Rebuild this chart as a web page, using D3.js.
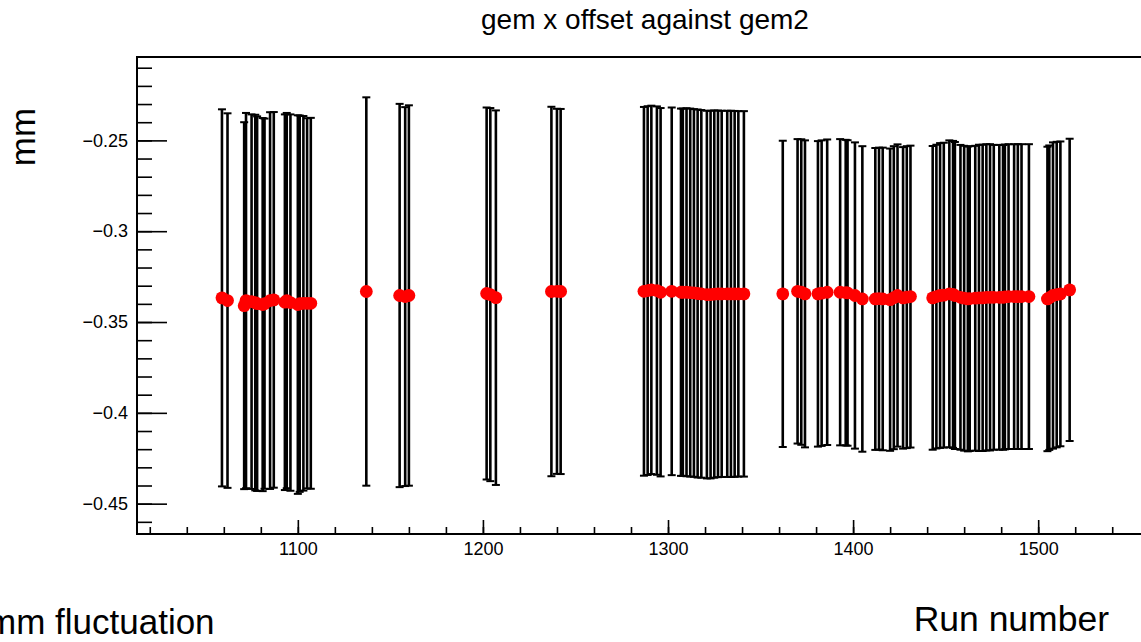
<!DOCTYPE html>
<html>
<head>
<meta charset="utf-8">
<script src="https://cdn.jsdelivr.net/npm/d3@7"></script>
<style>
  html, body { margin: 0; padding: 0; background: #fff; overflow: hidden; }
  svg { display: block; font-family: "Liberation Sans", Arial, Helvetica, sans-serif; }
</style>
</head>
<body>
<svg id="chart" width="1141" height="642"></svg>
<script>
// Run numbers
const runs = [
  1059, 1062,
  1071, 1072, 1075, 1077, 1078, 1081, 1082, 1085, 1087, 1093, 1094, 1096, 1100, 1101, 1103, 1105, 1107,
  1137,
  1155, 1158, 1160,
  1202, 1204, 1207,
  1237, 1240, 1242,
  1287, 1289, 1291, 1294, 1296, 1302, 1307, 1308, 1310, 1312, 1314, 1316, 1318, 1321, 1323, 1325, 1327, 1329, 1332, 1334, 1336, 1338, 1341,
  1362, 1370, 1372, 1374, 1381, 1383, 1386, 1393, 1396, 1397, 1401, 1405, 1412, 1414, 1416, 1420, 1422, 1424, 1427, 1429, 1431,
  1443, 1445, 1447, 1449, 1452, 1454, 1455, 1458, 1460, 1462, 1463, 1466, 1468, 1470, 1472, 1474, 1476, 1479, 1481, 1482, 1484, 1487, 1489, 1491, 1495,
  1505, 1506, 1508, 1510, 1512, 1517
];

// gem x offset (mm)
const offsets = [
  -0.3367, -0.3382,
  -0.3410, -0.3382, -0.3388, -0.3393, -0.3399, -0.3404, -0.3399, -0.3382, -0.3378, -0.3391, -0.3382, -0.3393, -0.3404, -0.3399, -0.3397, -0.3397, -0.3397,
  -0.3332,
  -0.3354, -0.3360, -0.3354,
  -0.3343, -0.3349, -0.3366,
  -0.3332, -0.3331, -0.3332,
  -0.3331, -0.3327, -0.3323, -0.3327, -0.3336, -0.3331, -0.3336, -0.3336, -0.3336, -0.3338, -0.3340, -0.3343, -0.3345, -0.3349, -0.3349, -0.3346, -0.3345, -0.3345, -0.3345, -0.3345, -0.3345, -0.3345, -0.3345,
  -0.3345, -0.3331, -0.3335, -0.3345, -0.3345, -0.3341, -0.3336, -0.3336, -0.3338, -0.3340, -0.3354, -0.3373, -0.3373, -0.3371, -0.3373, -0.3377, -0.3366, -0.3354, -0.3367, -0.3363, -0.3360,
  -0.3367, -0.3360, -0.3354, -0.3352, -0.3345, -0.3348, -0.3354, -0.3364, -0.3369, -0.3373, -0.3371, -0.3369, -0.3367, -0.3367, -0.3364, -0.3364, -0.3364, -0.3364, -0.3364, -0.3362, -0.3360, -0.3360, -0.3360, -0.3360, -0.3360,
  -0.3373, -0.3366, -0.3354, -0.3349, -0.3345, -0.3323
];

// fluctuation (mm), drawn as symmetric error bars
const errors = [
  0.1038, 0.1031,
  0.1010, 0.1033, 0.1031, 0.1034, 0.1031, 0.1027, 0.1019, 0.1037, 0.1034, 0.1034, 0.1033, 0.1036, 0.1042, 0.1036, 0.1031, 0.1019, 0.1021,
  0.1069,
  0.1055, 0.1043, 0.1047,
  0.1024, 0.1027, 0.1031,
  0.1017, 0.1005, 0.1005,
  0.1015, 0.1015, 0.1014, 0.1014, 0.1014, 0.1012, 0.1011, 0.1011, 0.1013, 0.1013, 0.1012, 0.1013, 0.1012, 0.1012, 0.1012, 0.1011, 0.1009, 0.1008, 0.1008, 0.1008, 0.1007, 0.1006, 0.1006,
  0.0843, 0.0838, 0.0841, 0.0845, 0.0841, 0.0841, 0.0841, 0.0843, 0.0841, 0.0841, 0.0843, 0.0841, 0.0831, 0.0831, 0.0833, 0.0832, 0.0834, 0.0832, 0.0830, 0.0831, 0.0831,
  0.0836, 0.0836, 0.0839, 0.0839, 0.0845, 0.0845, 0.0845, 0.0839, 0.0839, 0.0839, 0.0839, 0.0839, 0.0843, 0.0843, 0.0843, 0.0843, 0.0839, 0.0839, 0.0839, 0.0839, 0.0839, 0.0839, 0.0839, 0.0839, 0.0839,
  0.0838, 0.0838, 0.0843, 0.0841, 0.0839, 0.0832
];

// Axis ticks
const xMajorTicks = [1100, 1200, 1300, 1400, 1500];
const xMinorTicks = d3.range(1020, 1580, 20);
const yMajorTicks = [-0.45, -0.4, -0.35, -0.3, -0.25];
const yMinorTicks = d3.range(-46, -20, 1).map(v => v / 100);

const titleText = "gem x offset against gem2";
const xTitle = "Run number";
const yTitle = "mm";
const noteText = "mm fluctuation";

const svg = d3.select("#chart");
const frame = { left: 137, top: 57, bottom: 534, right: 1177 };

const x = d3.scaleLinear().domain([1013.1, 1575]).range([frame.left, frame.right]);
const y = d3.scaleLinear().domain([-0.4667, -0.2041]).range([frame.bottom, frame.top]);

const fmtY = v => (v < 0 ? "\u2212" : "") + String(+Math.abs(v).toFixed(2));

// minor ticks
svg.append("g")
  .attr("transform", `translate(0,${frame.bottom})`)
  .call(d3.axisBottom(x).tickValues(xMinorTicks).tickSize(-7).tickFormat(""))
  .call(g => g.select(".domain").remove())
  .call(g => g.selectAll("line").attr("stroke", "#000").attr("stroke-width", 1.6));

svg.append("g")
  .attr("transform", `translate(${frame.left},0)`)
  .call(d3.axisLeft(y).tickValues(yMinorTicks).tickSize(-15).tickFormat(""))
  .call(g => g.select(".domain").remove())
  .call(g => g.selectAll("line").attr("stroke", "#000").attr("stroke-width", 1.6));

// major ticks with labels
svg.append("g")
  .attr("transform", `translate(0,${frame.bottom})`)
  .call(d3.axisBottom(x).tickValues(xMajorTicks).tickSize(-14).tickPadding(8).tickFormat(d3.format("d")))
  .call(g => g.select(".domain").remove())
  .call(g => g.selectAll("line").attr("stroke", "#000").attr("stroke-width", 1.6))
  .call(g => g.selectAll("text").attr("fill", "#000").attr("font-size", 18)
    .attr("font-family", "Liberation Sans, Arial, sans-serif"));

svg.append("g")
  .attr("transform", `translate(${frame.left},0)`)
  .call(d3.axisLeft(y).tickValues(yMajorTicks).tickSize(-30).tickPadding(9).tickFormat(fmtY))
  .call(g => g.select(".domain").remove())
  .call(g => g.selectAll("line").attr("stroke", "#000").attr("stroke-width", 1.6))
  .call(g => g.selectAll("text").attr("fill", "#000").attr("font-size", 18)
    .attr("font-family", "Liberation Sans, Arial, sans-serif"));

// frame
svg.append("rect")
  .attr("x", frame.left).attr("y", frame.top)
  .attr("width", frame.right - frame.left).attr("height", frame.bottom - frame.top)
  .attr("fill", "none").attr("stroke", "#000").attr("stroke-width", 2);

// data points
const pts = runs.map((r, i) => ({ run: r, val: offsets[i], err: errors[i] }));

const bars = svg.append("g").attr("stroke", "#000").attr("stroke-width", 2.6);
pts.forEach(p => {
  const cx = x(p.run), y1 = y(p.val + p.err), y2 = y(p.val - p.err);
  bars.append("line").attr("x1", cx).attr("x2", cx).attr("y1", y1).attr("y2", y2);
  bars.append("line").attr("x1", cx - 4).attr("x2", cx + 4).attr("y1", y1).attr("y2", y1).attr("stroke-width", 2);
  bars.append("line").attr("x1", cx - 4).attr("x2", cx + 4).attr("y1", y2).attr("y2", y2).attr("stroke-width", 2);
});

svg.append("g").selectAll("circle")
  .data(pts)
  .join("circle")
  .attr("cx", d => x(d.run))
  .attr("cy", d => y(d.val))
  .attr("r", 6.4)
  .attr("fill", "#ff0000");

// titles
svg.append("text")
  .attr("x", 645).attr("y", 29)
  .attr("text-anchor", "middle")
  .attr("font-size", 28)
  .text(titleText);

svg.append("text")
  .attr("x", 1109).attr("y", 631)
  .attr("text-anchor", "end")
  .attr("font-size", 35.5)
  .text(xTitle);

svg.append("text")
  .attr("transform", "translate(35,137) rotate(-90)")
  .attr("text-anchor", "middle")
  .attr("font-size", 35)
  .text(yTitle);

svg.append("text")
  .attr("x", -13).attr("y", 634)
  .attr("font-size", 35)
  .text(noteText);
</script>
</body>
</html>
